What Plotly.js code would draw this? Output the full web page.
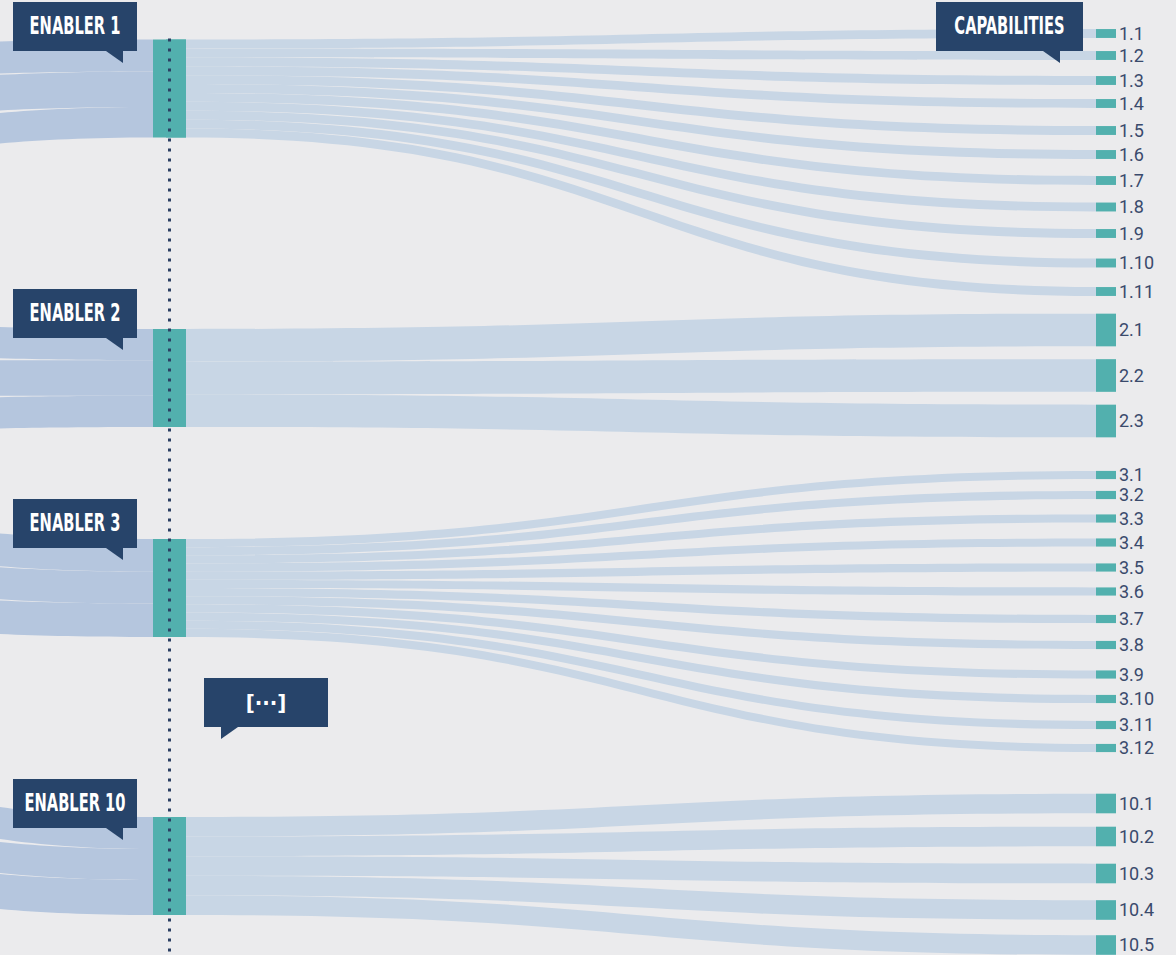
<!DOCTYPE html>
<html><head><meta charset="utf-8">
<script src="https://cdn.plot.ly/plotly-3.0.1.min.js"></script>
<style>
html,body{margin:0;padding:0;width:1176px;height:955px;overflow:hidden;background:#ebebed;}
#sankey{position:absolute;left:-450px;top:0;width:3200px;height:955px;}
#overlay{position:absolute;left:0;top:0;width:1176px;height:955px;pointer-events:none;}
</style></head><body>
<div id="sankey"></div><div id="overlay"></div>
<script>
// ---------- DATA ----------
const enablerLabels = ['ENABLER 1', 'ENABLER 2', 'ENABLER 3', 'ENABLER 10'];
const inflowValues = [[43, 48, 41], [42, 48, 42], [44, 43, 45], [43, 42, 47]];
const capabilityLabels = ['1.1','1.2','1.3','1.4','1.5','1.6','1.7','1.8','1.9','1.10','1.11',
  '2.1','2.2','2.3',
  '3.1','3.2','3.3','3.4','3.5','3.6','3.7','3.8','3.9','3.10','3.11','3.12',
  '10.1','10.2','10.3','10.4','10.5'];
const capabilityEnabler = [0,0,0,0,0,0,0,0,0,0,0, 1,1,1, 2,2,2,2,2,2,2,2,2,2,2,2, 3,3,3,3,3];
const capabilityValues = [12,12,12,12,12,12,12,12,12,12,12, 44,44,44,
  11,11,11,11,11,11,11,11,11,11,11,11, 26.4,26.4,26.4,26.4,26.4];
const headerLabel = 'CAPABILITIES';
const moreLabel = '[···]';

// ---------- LAYOUT (positions in page px) ----------
const H = 955, DIV_OFF = 450, DIV_W = 3200;
const NODE_H = 98;
const enablerCenterY = [88.5, 378, 588, 866];
const capabilityCenterY = [33.5,55.5,80.5,103.5,130.5,154.5,180.5,207,233.5,263,291.5,
  330,375.5,421,
  475,495,518.5,542.5,567.5,591.5,619,645,674.5,699,725,748,
  803.5,836.5,873.5,910,945];
const sourceShift = [[14,24,42],[-14,0,10],[-38,-31,-21],[-70,-49,-42]];
const ENABLER_X = 169.5, ENABLER_T = 33, CAP_X = 1106, CAP_T = 20, SOURCE_X = -400, DUMMY_X = 2650;

const TEAL = '#52b0ae', LEFT_LINK = '#b5c6de', RIGHT_LINK = '#c8d6e5', NAVY = '#27446a';

const enablerTotal = enablerLabels.map((_, e) => inflowValues[e].reduce((a, b) => a + b, 0));
const ky = NODE_H / Math.max(...enablerTotal);
const grandTotal = enablerTotal.reduce((a, b) => a + b, 0);

// ---- Trace A: sources -> enablers ----
const widthA = ENABLER_X + DIV_OFF;
const nSrc = inflowValues.reduce((a, v) => a + v.length, 0);
const padA = (H - grandTotal * ky) / (nSrc - 1);
const aLabels = [], aColors = [], aX = [], aY = [];
const aSrc = [], aTgt = [], aVal = [];
inflowValues.forEach((vals, e) => {
  let cum = enablerCenterY[e] - (enablerTotal[e] * ky) / 2;
  vals.forEach((v, i) => {
    const c = cum + v * ky / 2;
    cum += v * ky;
    aLabels.push(''); aColors.push(LEFT_LINK);
    aX.push((SOURCE_X + DIV_OFF) / widthA);
    aY.push((c + sourceShift[e][i]) / H);
  });
});
enablerLabels.forEach((lab, e) => {
  aLabels.push(''); aColors.push(TEAL); aX.push(1); aY.push(enablerCenterY[e] / H);
});
let si = 0;
inflowValues.forEach((vals, e) => {
  vals.forEach(v => { aSrc.push(si++); aTgt.push(nSrc + e); aVal.push(v); });
});

const traceA = {
  type: 'sankey', arrangement: 'fixed', hoverinfo: 'none',
  domain: {x: [0, widthA / DIV_W], y: [0, 1]},
  node: {label: aLabels, color: aColors, x: aX, y: aY, pad: padA, thickness: ENABLER_T,
         line: {width: 0}, hoverinfo: 'none'},
  link: {source: aSrc, target: aTgt, value: aVal, color: aSrc.map(() => LEFT_LINK),
         line: {width: 0}, hoverinfo: 'none'},
  textfont: {size: 1, color: 'rgba(0,0,0,0)'}
};

// ---- Trace B: enablers -> capabilities (-> hidden sink) ----
const nE = enablerLabels.length, nC = capabilityLabels.length;
const padB = (H - grandTotal * ky) / (nC - 1);
const bLabels = [], bColors = [], bX = [], bY = [];
enablerLabels.forEach((lab, e) => {
  bLabels.push(''); bColors.push(TEAL);
  bX.push((ENABLER_X + ENABLER_T / 2 - CAP_T / 2 + DIV_OFF) / DIV_W);
  bY.push(enablerCenterY[e] / H);
});
capabilityLabels.forEach((lab, c) => {
  bLabels.push(lab); bColors.push(TEAL);
  bX.push((CAP_X + DIV_OFF) / DIV_W); bY.push(capabilityCenterY[c] / H);
});
bLabels.push(''); bColors.push('rgba(0,0,0,0)'); bX.push((DUMMY_X + DIV_OFF) / DIV_W); bY.push(0.5);
const bSrc = [], bTgt = [], bVal = [], bCol = [];
capabilityLabels.forEach((lab, c) => {
  bSrc.push(capabilityEnabler[c]); bTgt.push(nE + c); bVal.push(capabilityValues[c]); bCol.push(RIGHT_LINK);
});
capabilityLabels.forEach((lab, c) => {
  bSrc.push(nE + c); bTgt.push(nE + nC); bVal.push(capabilityValues[c]); bCol.push('rgba(0,0,0,0)');
});
const traceB = {
  type: 'sankey', arrangement: 'fixed', hoverinfo: 'none',
  domain: {x: [0, 1], y: [0, 1]},
  node: {label: bLabels, color: bColors, x: bX, y: bY, pad: padB, thickness: CAP_T,
         line: {width: 0}, hoverinfo: 'none'},
  link: {source: bSrc, target: bTgt, value: bVal, color: bCol, line: {width: 0}, hoverinfo: 'none'},
  textfont: {family: 'Roboto, Liberation Sans, sans-serif', size: 18, color: '#3a4a6c', shadow: 'none', weight: 400}
};

Plotly.newPlot('sankey', [traceA, traceB], {
  width: DIV_W, height: H, margin: {l: 0, r: 0, t: 0, b: 0},
  paper_bgcolor: '#ebebed', plot_bgcolor: '#ebebed', showlegend: false
}, {staticPlot: true, displayModeBar: false});

// ---------- OVERLAY: dotted line + callouts ----------
const boxFont = {family: 'DejaVu Sans Condensed, DejaVu Sans, sans-serif',
                 size: 24, color: '#ffffff', weight: 700};
const boxes = [
  {text: enablerLabels[0], x: 13, y: 2, w: 124, h: 49, tail: [[93,0],[110,0],[110,12]]},
  {text: enablerLabels[1], x: 13, y: 289, w: 124, h: 49, tail: [[93,0],[110,0],[110,12]]},
  {text: enablerLabels[2], x: 13, y: 499, w: 124, h: 49, tail: [[93,0],[110,0],[110,12]]},
  {text: enablerLabels[3], x: 13, y: 779, w: 124, h: 49, tail: [[93,0],[110,0],[110,12]]},
  {text: headerLabel, x: 936, y: 2, w: 147, h: 49, tail: [[107,0],[124,0],[124,12]]},
  {text: moreLabel, x: 204, y: 678, w: 124, h: 49, tail: [[17,0],[34,0],[17,12]], size: 22, plain: true}
];
const shapes = [{
  type: 'line', xref: 'x', yref: 'y', x0: ENABLER_X, x1: ENABLER_X, y0: 38.5, y1: 962,
  line: {color: '#2b3f63', width: 3, dash: '3px,7px'}, layer: 'above'
}];
const annotations = [];
boxes.forEach(b => {
  const by = b.y + b.h;
  const p = b.tail.map((pt, i) => (i ? 'L' : 'M') + (b.x + pt[0]) + ',' + (by + pt[1])).join(' ') + ' Z';
  shapes.push({type: 'path', xref: 'x', yref: 'y', path: p, fillcolor: NAVY, line: {width: 0}, layer: 'above'});
  annotations.push({
    xref: 'x', yref: 'y', x: b.x, y: b.y, xanchor: 'left', yanchor: 'top',
    width: b.w, height: b.h, borderpad: 0, borderwidth: 0, bgcolor: NAVY,
    showarrow: false, align: 'center', valign: 'middle',
    text: b.text, font: Object.assign({}, boxFont, b.size ? {size: b.size} : {}),
    name: b.plain ? 'plain' : 'condensed'
  });
});
Plotly.newPlot('overlay', [], {
  width: 1176, height: H, margin: {l: 0, r: 0, t: 0, b: 0},
  paper_bgcolor: 'rgba(0,0,0,0)', plot_bgcolor: 'rgba(0,0,0,0)',
  xaxis: {range: [0, 1176], visible: false, fixedrange: true},
  yaxis: {range: [H, 0], visible: false, fixedrange: true},
  shapes: shapes, annotations: annotations, showlegend: false
}, {staticPlot: true, displayModeBar: false}).then(() => {
  // the box clip would cut the wide text before it is condensed: drop it
  document.querySelectorAll('#overlay .annotation [clip-path]').forEach(el => el.removeAttribute('clip-path'));
  // condense the callout lettering horizontally (the original uses a narrow display face)
  document.querySelectorAll('#overlay .annotation-text').forEach(t => {
    if (t.textContent === moreLabel) return;
    t.style.transformBox = 'fill-box';
    t.style.transformOrigin = 'center';
    t.style.transform = 'scaleX(0.68)';
  });
});
</script></body></html>
